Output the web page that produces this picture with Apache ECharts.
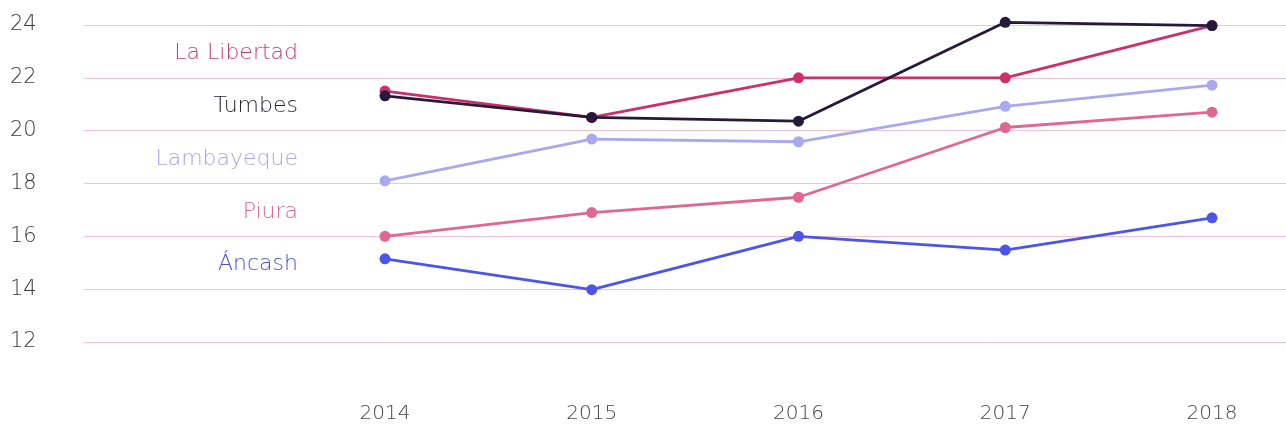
<!DOCTYPE html>
<html>
<head>
<meta charset="utf-8">
<script src="https://cdn.jsdelivr.net/npm/echarts@6/dist/echarts.min.js"></script>
<style>html,body{margin:0;padding:0;background:#fff;}#c{width:1286px;height:430px;}</style>
</head>
<body>
<div id="c"></div>
<script>
const years = ['2014', '2015', '2016', '2017', '2018'];
const yTicks = [12, 14, 16, 18, 20, 22, 24];
const ancash = [15.15, 13.98, 16.0, 15.48, 16.7];
const piura = [16.0, 16.9, 17.48, 20.12, 20.7];
const lambayeque = [18.1, 19.68, 19.58, 20.92, 21.72];
const laLibertad = [21.5, 20.5, 22.0, 22.0, 23.98];
const tumbes = [21.32, 20.5, 20.36, 24.1, 23.98];
const seriesNames = ['Áncash', 'Piura', 'Lambayeque', 'La Libertad', 'Tumbes'];
const seriesColors = ['#4c55e8', '#e06890', '#aaa8ee', '#cc3068', '#261a3a'];
const labelColors = ['#4a50d4', '#dc6a96', '#aaa6e6', '#c43f74', '#2a2430'];
const labelValues = [15, 17, 19, 23, 21];

const FONT = '"DejaVu Sans", sans-serif';
const chart = echarts.init(document.getElementById('c'));
const dataSets = [ancash, piura, lambayeque, laLibertad, tumbes];

const option = {
  animation: false,
  backgroundColor: '#ffffff',
  grid: [
    { left: 84, right: 0, top: 25, bottom: 88 },
    { left: 385, right: 74, top: 25, bottom: 88 }
  ],
  xAxis: [
    { type: 'value', gridIndex: 0, min: 0, max: 1, show: false },
    {
      type: 'category', gridIndex: 1, data: years, boundaryGap: false,
      axisLine: { show: false }, axisTick: { show: false }, splitLine: { show: false },
      axisLabel: { color: '#444', fontSize: 20, fontFamily: FONT, fontWeight: 200, margin: 62 }
    }
  ],
  yAxis: [
    {
      type: 'value', gridIndex: 0, min: 12, max: 24, interval: 2,
      axisLine: { show: false }, axisTick: { show: false },
      splitLine: { show: true, lineStyle: { color: '#f4c3d2', width: 1 } },
      axisLabel: {
        color: '#3a3a3a', fontSize: 21, fontFamily: FONT, fontWeight: 200,
        align: 'left', margin: 74,
        formatter: v => yTicks.includes(v) ? String(v) : ''
      }
    },
    { type: 'value', gridIndex: 1, min: 12, max: 24, show: false }
  ],
  series: dataSets.map((d, i) => ({
    name: seriesNames[i],
    type: 'line',
    xAxisIndex: 1, yAxisIndex: 1,
    data: d,
    clip: false,
    symbol: 'circle', symbolSize: 11,
    lineStyle: { color: seriesColors[i], width: 2.8 },
    itemStyle: { color: seriesColors[i] },
    z: 2 + i
  }))
};
chart.setOption(option);

const labelX = 298;
chart.setOption({
  graphic: seriesNames.map((n, i) => ({
    type: 'text',
    x: labelX,
    y: chart.convertToPixel({ yAxisIndex: 0 }, labelValues[i]) + 2,
    style: {
      text: n, fill: labelColors[i], fontSize: 22, fontFamily: FONT, fontWeight: 200,
      textAlign: 'right', textVerticalAlign: 'middle'
    }
  }))
});
</script>
</body>
</html>
